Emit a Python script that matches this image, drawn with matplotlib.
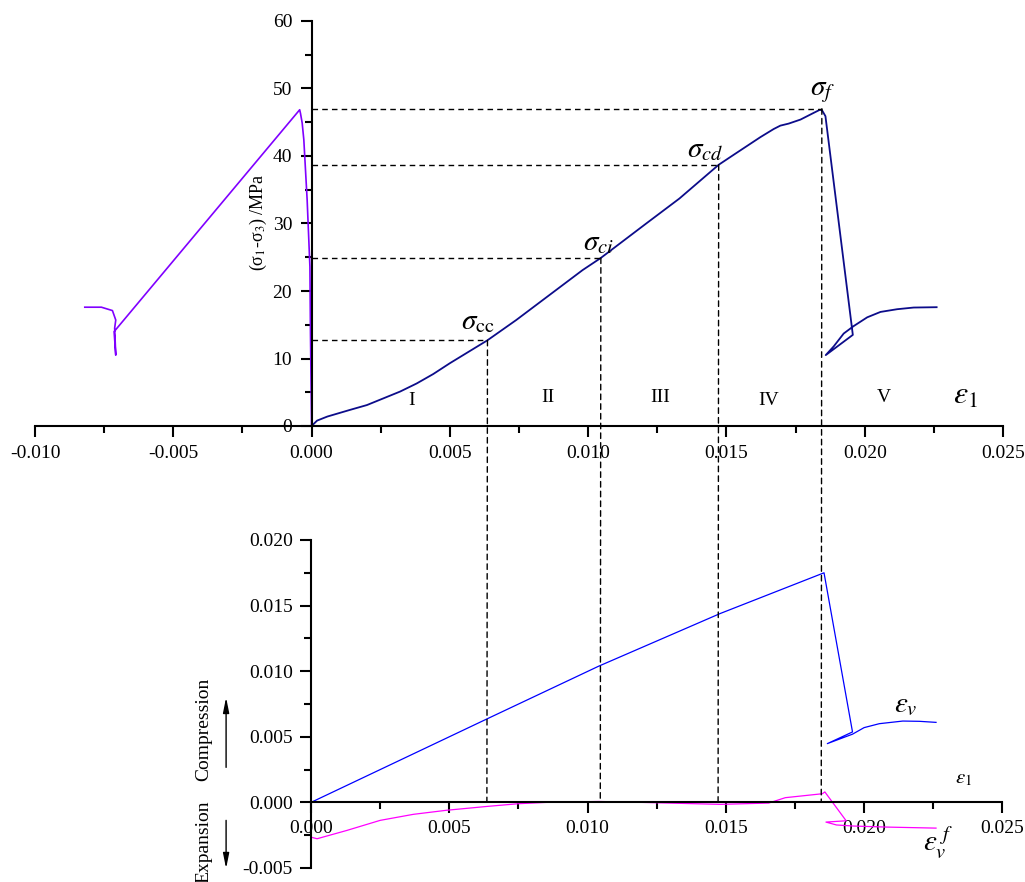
import numpy as np
import matplotlib
matplotlib.use("Agg")
import matplotlib.pyplot as plt
from matplotlib.patches import ConnectionPatch
from matplotlib.ticker import MultipleLocator, FormatStrFormatter

plt.rcParams['font.family'] = ['Liberation Serif', 'DejaVu Serif']
plt.rcParams['mathtext.fontset'] = 'stix'

# stress - axial strain (top), right part
axial_x = [0, 0.0002, 0.00057, 0.0014, 0.0020, 0.0026, 0.0032, 0.0038, 0.0044, 0.0050,
           0.00636, 0.0074, 0.0086, 0.0098, 0.01046, 0.0121, 0.0133, 0.01472, 0.01527,
           0.01575, 0.01623, 0.01671, 0.01695, 0.01725, 0.01768, 0.01816, 0.01838, 0.01846,
           0.01858, 0.01957, 0.01859, 0.01888, 0.01924, 0.0196, 0.02009, 0.02057, 0.02117,
           0.02177, 0.0226]
axial_y = [0, 0.8, 1.4, 2.4, 3.1, 4.1, 5.1, 6.3, 7.7, 9.3,
           12.7, 15.7, 19.4, 23.1, 24.9, 30.0, 33.7, 38.7, 40.2,
           41.5, 42.8, 44.0, 44.5, 44.8, 45.4, 46.4, 46.85, 46.75,
           45.9, 13.5, 10.5, 11.8, 13.7, 14.8, 16.1, 16.9, 17.3,
           17.55, 17.6]

# stress - lateral strain (top), left part
lat_x = [0, -0.00004, -0.00006, -0.00016, -0.00028, -0.00034, -0.00040, -0.00043,
         -0.00714, -0.00708, -0.00712, -0.00708, -0.0072, -0.0076, -0.0082]
lat_y = [0, 13.8, 23.6, 33.5, 42.4, 44.9, 46.3, 46.85,
         13.98, 10.5, 14.5, 15.7, 17.1, 17.6, 17.6]

# volumetric strain (bottom)
vol_x = [0, 0.0064, 0.0104, 0.0148, 0.01855, 0.01958, 0.01867, 0.01958, 0.0200,
         0.02055, 0.0214, 0.0220, 0.0226]
vol_y = [0, 0.0064, 0.01038, 0.0144, 0.0175, 0.00537, 0.00448, 0.0052, 0.0057,
         0.0060, 0.0062, 0.00618, 0.0061]

# crack volumetric strain (bottom)
crack_x = [0, 0.00022, 0.00129, 0.0025, 0.0037, 0.0049, 0.0064, 0.0075, 0.0085, 0.0104,
           0.0120, 0.0148, 0.01655, 0.01715, 0.01849, 0.01858, 0.01935, 0.01862, 0.0190,
           0.0196, 0.0208, 0.0226]
crack_y = [-0.00265, -0.00277, -0.00214, -0.00137, -0.00091, -0.0006, -0.0003, -0.0001, 0.0,
           0.00007, 0.0, -0.00015, -0.00005, 0.00036, 0.00066, 0.0008, -0.0014, -0.0015,
           -0.00172, -0.0018, -0.00188, -0.00196]

# characteristic stresses
sig_x = [0.00636, 0.01046, 0.01472, 0.01845]
sig_y = [12.7, 24.9, 38.7, 47.0]
sig_labels = [r'$\sigma_{\rm cc}$', r'$\sigma_{ci}$', r'$\sigma_{cd}$', r'$\sigma_f$']
sig_label_pos = [(0.0060, 15.4), (0.01037, 27.1), (0.01423, 40.9), (0.01846, 49.5)]

stages = ['I', 'II', 'III', 'IV', 'V']
stage_x = [0.00361, 0.00853, 0.01261, 0.01651, 0.0207]
stage_y = [3.85, 4.15, 4.15, 3.85, 4.15]

W, H = 1025, 882
fig = plt.figure(figsize=(W / 100, H / 100), dpi=100)
ax1 = fig.add_axes([35 / W, 1 - 426 / H, (1003 - 35) / W, (426 - 21) / H])
ax2 = fig.add_axes([311 / W, 1 - 868 / H, (1002.4 - 311) / W, (868 - 540) / H])

# ---- top panel
ax1.plot(axial_x, axial_y, color='#0c0c8a', lw=1.3)
ax1.plot(lat_x, lat_y, color='#8000ff', lw=1.2)
ax1.set_xlim(-0.010, 0.025)
ax1.set_ylim(0, 60)
for s in ['top', 'right']:
    ax1.spines[s].set_visible(False)
ax1.spines['left'].set_position(('data', 0))
ax1.spines['bottom'].set_position(('data', 0))
for s in ['left', 'bottom']:
    ax1.spines[s].set_linewidth(1.5)
ax1.xaxis.set_major_locator(MultipleLocator(0.005))
ax1.xaxis.set_minor_locator(MultipleLocator(0.0025))
ax1.xaxis.set_major_formatter(FormatStrFormatter('%.3f'))
ax1.yaxis.set_major_locator(MultipleLocator(10))
ax1.yaxis.set_minor_locator(MultipleLocator(5))
ax1.tick_params(which='major', direction='out', length=8, width=1.5, labelsize=14, pad=6)
ax1.tick_params(which='minor', direction='out', length=5, width=1.5)
ax1.patch.set_visible(False)

for x, y in zip(sig_x, sig_y):
    ax1.plot([0, x], [y, y], color='black', lw=1.0, dashes=(4, 3))
for lab, (x, y) in zip(sig_labels, sig_label_pos):
    ax1.text(x, y, lab, fontsize=21, ha='center', va='center')
for lab, x, y in zip(stages, stage_x, stage_y):
    ax1.text(x, y, lab, fontsize=14, ha='center', va='center')
ax1.text(0.02366, 4.4, r'$\varepsilon_{\rm 1}$', fontsize=23, ha='center', va='center')
ax1.text(-0.00191, 30.2, '(σ$_1$-σ$_3$) /MPa', fontsize=13, rotation=90,
         ha='center', va='center')

# ---- bottom panel
ax2.plot(vol_x, vol_y, color='#0000ff', lw=0.9)
ax2.plot(crack_x, crack_y, color='#ff00ff', lw=0.9)
ax2.set_xlim(0, 0.025)
ax2.set_ylim(-0.005, 0.020)
for s in ['top', 'right']:
    ax2.spines[s].set_visible(False)
ax2.spines['bottom'].set_position(('data', 0))
for s in ['left', 'bottom']:
    ax2.spines[s].set_linewidth(1.5)
ax2.xaxis.set_major_locator(MultipleLocator(0.005))
ax2.xaxis.set_minor_locator(MultipleLocator(0.0025))
ax2.xaxis.set_major_formatter(FormatStrFormatter('%.3f'))
ax2.yaxis.set_major_locator(MultipleLocator(0.005))
ax2.yaxis.set_minor_locator(MultipleLocator(0.0025))
ax2.yaxis.set_major_formatter(FormatStrFormatter('%.3f'))
ax2.tick_params(which='major', direction='out', length=8, width=1.5, labelsize=14, pad=5)
ax2.tick_params(which='minor', direction='out', length=5, width=1.5)
ax2.patch.set_visible(False)

ax2.text(0.02151, 0.0074, r'$\varepsilon_v$', fontsize=21, ha='center', va='center')
ax2.text(0.02359, 0.00183, r'$\varepsilon_{\rm 1}$', fontsize=15, ha='center', va='center')
ax2.text(0.02267, -0.00305, r'$\varepsilon_v^{\ f}$', fontsize=21, ha='center', va='center')

ax2.text(-0.00387, 0.00557, 'Compression', fontsize=14, rotation=90, ha='center', va='center')
ax2.text(-0.00387, -0.0030, 'Expansion', fontsize=14, rotation=90, ha='center', va='center')
arrow = dict(arrowstyle='-|>,head_length=0.9,head_width=0.18', color='black', lw=1.0,
             shrinkA=0, shrinkB=0)
ax2.annotate('', xy=(-0.00307, 0.0080), xytext=(-0.00307, 0.00267), arrowprops=arrow,
             annotation_clip=False)
ax2.annotate('', xy=(-0.00307, -0.00504), xytext=(-0.00307, -0.00137), arrowprops=arrow,
             annotation_clip=False)

# vertical dashed lines running from the stress curve down to the bottom axis
for x, y in zip(sig_x, sig_y):
    con = ConnectionPatch(xyA=(x, y), coordsA=ax1.transData,
                          xyB=(x, 0), coordsB=ax2.transData,
                          color='black', lw=1.0, linestyle=(0, (4, 3)))
    fig.add_artist(con)

fig.savefig('out.png', dpi=100)
